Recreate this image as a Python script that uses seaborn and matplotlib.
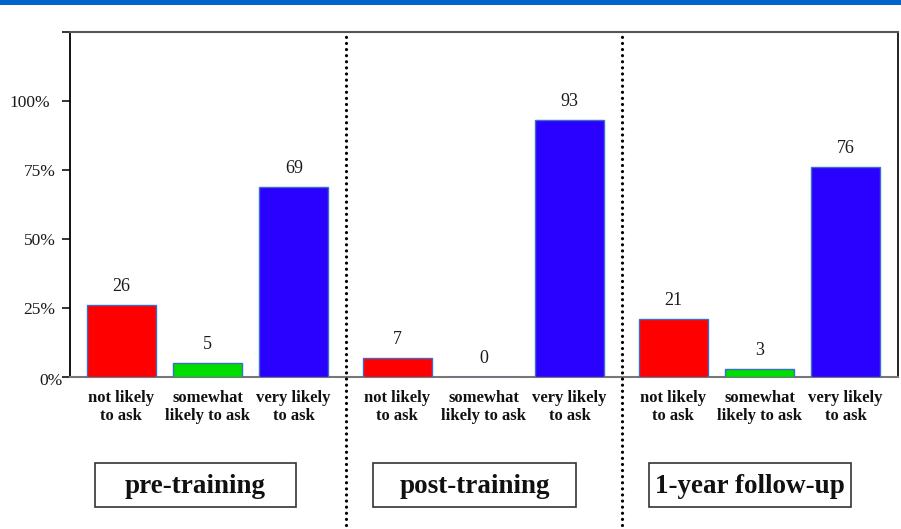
import matplotlib
matplotlib.use("Agg")
import matplotlib.pyplot as plt
from matplotlib.patches import Rectangle
from matplotlib.transforms import ScaledTranslation
import seaborn as sns
import pandas as pd

# Survey results: percent of respondents at each time point
groups = ["pre-training", "post-training", "1-year follow-up"]
responses = ["not likely\nto ask", "somewhat\nlikely to ask", "very likely\nto ask"]
pre_training = [26, 5, 69]
post_training = [7, 0, 93]
one_year = [21, 3, 76]
y_ticks = [0, 25, 50, 75, 100, 125]
y_tick_labels = ["0%", "25%", "50%", "75%", "100%", ""]
colors = {responses[0]: "#FF0000", responses[1]: "#00DD00", responses[2]: "#2A00FF"}

GROUP_SPAN = 3.2  # horizontal room given to each time point

rows = []
for g, vals in enumerate([pre_training, post_training, one_year]):
    for i, v in enumerate(vals):
        rows.append({"group": groups[g], "response": responses[i],
                     "pos": g * GROUP_SPAN + i, "pct": v})
df = pd.DataFrame(rows)

sns.set_theme(style="white")
plt.rcParams["font.family"] = ["Liberation Serif", "DejaVu Serif"]

fig = plt.figure(figsize=(9.01, 5.29), dpi=100)
ax = fig.add_axes([69.5 / 901, 1 - 377 / 529, 828 / 901, 345 / 529])

sns.barplot(data=df, x="pos", y="pct", hue="response", palette=colors,
            saturation=1, native_scale=True, width=0.8, errorbar=None,
            legend=False, edgecolor="#3D6CCB", linewidth=1.0, ax=ax, zorder=3)

ax.set_xlim(-0.6, 3 * GROUP_SPAN - 0.6)
ax.set_ylim(0, 125)

# value labels above each bar
for _, r in df.iterrows():
    ax.annotate(f"{r['pct']}", (r["pos"], r["pct"]), xytext=(0, 10),
                textcoords="offset points", ha="center", va="baseline",
                fontsize=13, color="#1a1a1a")

# axes styling
ax.set_xlabel("")
ax.set_ylabel("")
ax.set_yticks(y_ticks)
ax.set_yticklabels(y_tick_labels, fontsize=12.5, color="#1a1a1a")
ax.tick_params(axis="y", direction="out", length=5.8, width=1.2, pad=4.3,
               left=True, color="#111111")
ax.set_xticks(df["pos"])
ax.set_xticklabels(df["response"], fontsize=12, fontweight="bold",
                   color="#111111", linespacing=1.2)
ax.tick_params(axis="x", length=0, pad=9)

for side, col, lw in [("left", "#000000", 1.3), ("right", "#111111", 1.3),
                      ("top", "#555555", 1.5), ("bottom", "#777777", 1.5)]:
    ax.spines[side].set_visible(True)
    ax.spines[side].set_color(col)
    ax.spines[side].set_linewidth(lw)

# nudge the end labels of the percent axis
ylabels = ax.get_yticklabels()
ylabels[0].set_transform(ylabels[0].get_transform()
                         + ScaledTranslation(0.07, -0.02, fig.dpi_scale_trans))
ylabels[4].set_transform(ylabels[4].get_transform()
                         + ScaledTranslation(-0.05, 0, fig.dpi_scale_trans))

# dotted separators between time points
for g in (1, 2):
    ax.axvline(g * GROUP_SPAN - 0.6, ymin=-0.43, ymax=0.995, clip_on=False,
               color="black", linewidth=2.3, linestyle=(0, (0.01, 1.9)),
               dash_capstyle="round", zorder=4)

# blue banner across the top
fig.patches.append(Rectangle((0, 1 - 5 / 529), 1, 5 / 529,
                             transform=fig.transFigure, facecolor="#0066CC",
                             edgecolor="none", zorder=5))

# boxed time-point titles
box_specs = [(195.5, 201), (474.5, 203), (750, 202)]
for name, (cx, w) in zip(groups, box_specs):
    fig.patches.append(Rectangle(((cx - w / 2) / 901, 1 - 507 / 529),
                                 w / 901, 44 / 529, transform=fig.transFigure,
                                 facecolor="white", edgecolor="#333333",
                                 linewidth=1.2))
    fig.text(cx / 901, 1 - 493 / 529, name, ha="center", va="baseline",
             fontsize=19.5, fontweight="bold", color="#111111")

fig.savefig("out.png", dpi=100)
